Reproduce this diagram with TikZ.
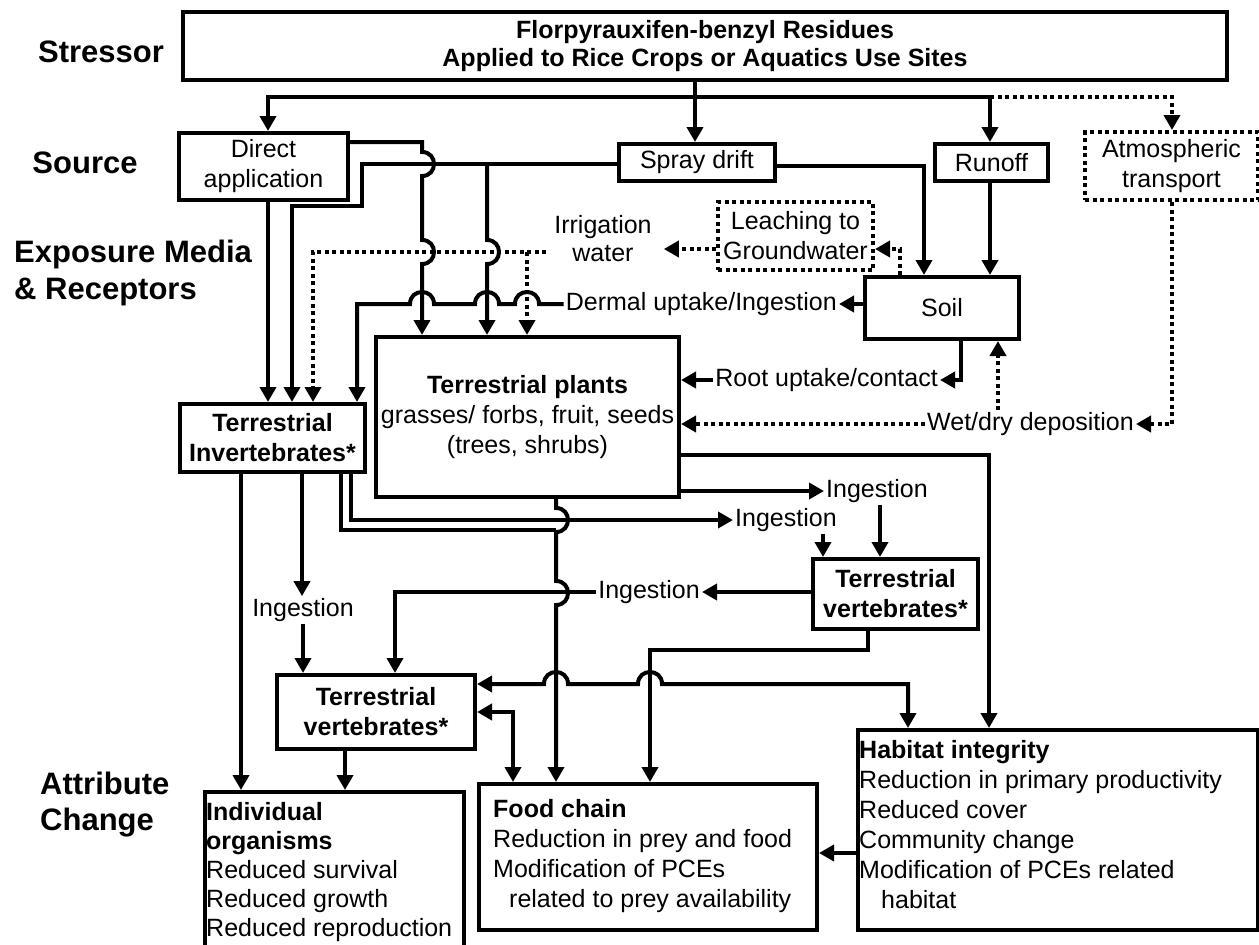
\documentclass[tikz,border=0pt]{standalone}
\usepackage{fontspec}
\setmainfont{Liberation Sans}
\usetikzlibrary{arrows.meta}
\begin{document}
\begin{tikzpicture}[x=1pt,y=-1pt,
  lw/.style={line width=4pt},
  box/.style={draw, lw, inner sep=0pt, align=center, anchor=north west, font=\fontsize{25}{30}\selectfont},
  dbox/.style={box, dash pattern=on 4pt off 3.5pt},
  arr/.style={lw, -{Triangle[length=15pt,width=16pt]}},
  darr/.style={lw, {Triangle[length=15pt,width=16pt]}-{Triangle[length=15pt,width=16pt]}},
  dot/.style={dash pattern=on 4pt off 3.5pt},
  lbl/.style={inner sep=2pt, font=\fontsize{25}{30}\selectfont, align=center},
  sect/.style={inner sep=0pt, font=\bfseries\fontsize{31}{37}\selectfont, align=left},
  body/.style={inner sep=0pt, anchor=north west, align=left, font=\fontsize{25}{30}\selectfont}
]
\useasboundingbox (0,0) rectangle (1259,945);
\clip (0,0) rectangle (1259,945);

% section labels
\node[sect, anchor=center] (lstress) at (101,52) {Stressor};
\node[sect, anchor=center] (lsource) at (85,163) {Source};
\node[sect, anchor=north west] (lexp) at (14,240) {Exposure Media\\\& Receptors};
\node[sect, anchor=north west, font=\bfseries\fontsize{31}{36}\selectfont] (lattr) at (40,772) {Attribute\\Change};

% boxes
\node[box, minimum width=1044pt, minimum height=68pt, font=\bfseries\fontsize{25}{28}\selectfont] (stressor) at (181,10) {Florpyrauxifen-benzyl Residues\\Applied to Rice Crops or Aquatics Use Sites};
\node[box, minimum width=169pt, minimum height=67pt] (da) at (177,131) {Direct\\application};
\node[box, minimum width=156pt, minimum height=37pt] (sd) at (617,142) {Spray drift};
\node[box, minimum width=113pt, minimum height=37pt] (ro) at (933,142) {Runoff};
\node[dbox, minimum width=173pt, minimum height=68pt] (at) at (1083,130) {Atmospheric\\transport};
\node[dbox, minimum width=155pt, minimum height=68pt] (lg) at (716,200) {Leaching to\\Groundwater};
\node[box, minimum width=154pt, minimum height=62pt] (soil) at (863,275) {Soil};
\node[box, minimum width=303pt, minimum height=160pt] (tp) at (374,335) {\textbf{Terrestrial plants}\\grasses/ forbs, fruit, seeds\\(trees, shrubs)};
\node[box, minimum width=185pt, minimum height=68pt, font=\bfseries\fontsize{25}{30}\selectfont] (ti) at (178,402) {Terrestrial\\Invertebrates*};
\node[box, minimum width=165pt, minimum height=70pt, font=\bfseries\fontsize{25}{30}\selectfont] (tvu) at (811,557) {Terrestrial\\vertebrates*};
\node[box, minimum width=198pt, minimum height=74pt, font=\bfseries\fontsize{25}{30}\selectfont] (tvl) at (275,673) {Terrestrial\\vertebrates*};
\node[box, minimum width=259pt, minimum height=165pt] (io) at (203,790) {};
\node[box, minimum width=338pt, minimum height=146pt] (fc) at (477,782) {};
\node[box, minimum width=400pt, minimum height=200pt] (hi) at (856,728) {};

% box texts
\node[body, font=\fontsize{25}{29}\selectfont] (iot) at (206,800) {\strut\textbf{Individual}\\\textbf{organisms}\\Reduced survival\\Reduced growth\\Reduced reproduction};
\node[body] (fct) at (493,796) {\strut\textbf{Food chain}\\Reduction in prey and food\\Modification of PCEs\\\hspace*{16pt}related to prey availability};
\node[body] (hit) at (859,737) {\strut\textbf{Habitat integrity}\\Reduction in primary productivity\\Reduced cover\\Community change\\Modification of PCEs related\\\hspace*{22pt}habitat};

% labels
\node[lbl, font=\fontsize{25}{28}\selectfont] (irr) at (603,239) {Irrigation\\water};
\node[lbl, anchor=east] (derm) at (839,304) {Dermal uptake/Ingestion};
\node[lbl, anchor=east] (root) at (940,380) {Root uptake/contact};
\node[lbl, anchor=west] (wet) at (925,424) {Wet/dry deposition};
\node[lbl, anchor=west] (ing1) at (824,491) {Ingestion};
\node[lbl, anchor=west] (ing2) at (733,520) {Ingestion};
\node[lbl, anchor=east] (ing3) at (702,592) {Ingestion};
\node[lbl] (ing4) at (303,610) {Ingestion};

% junction coordinates
\coordinate (split) at (695,97);
\coordinate (sdj) at (487,164);
\coordinate (irrj) at (527,252);
\coordinate (tij) at (556,530);

% stressor to sources
\draw[arr] (695,0 |- stressor.south) -- (695,0 |- sd.north);
\draw[arr] (split) -| (268,0 |- da.north);
\draw[arr] (split) -| (990,0 |- ro.north);
\draw[arr,dot] (990,0 |- split) -| (1172,0 |- at.north);

% direct application
\draw[arr] (268,0 |- da.south) -- (268,0 |- ti.north);
\draw[arr] (da.east |- 0,142) -- (422,142) -- (422,152) .. controls (438,152) and (438,176) .. (422,176) -- (422,240) .. controls (438,240) and (438,264) .. (422,264) -- (422,0 |- tp.north);

% spray drift
\draw[arr] (sd.west |- 0,164) -- (362,164) -- (362,206) -- (292,206) -- (292,0 |- ti.north);
\draw[arr] (sdj) -- (487,240) .. controls (503,240) and (503,264) .. (487,264) -- (487,0 |- tp.north);
\draw[arr] (sd.east |- 0,166) -| (924,0 |- soil.north);

% runoff
\draw[arr] (990,0 |- ro.south) -- (990,0 |- soil.north);

% leaching / irrigation
\draw[arr,dot] (900,0 |- soil.north) |- (lg.east |- 0,249);
\draw[arr,dot,shorten >=10pt] (lg.west |- 0,249) -- (irr.east |- 0,249);
\draw[arr,dot,shorten <=6pt] (irr.west |- 0,252) -- (313,252) -- (313,0 |- ti.north);
\draw[arr,dot] (irrj) -- (527,0 |- tp.north);

% dermal
\draw[arr] (soil.west |- derm.east) -- (derm.east);
\draw[arr] (derm.west) -- (539,304) .. controls (539,288) and (515,288) .. (515,304) -- (499,304) .. controls (499,288) and (475,288) .. (475,304) -- (434,304) .. controls (434,288) and (410,288) .. (410,304) -- (357,304) -- (357,0 |- ti.north);

% root uptake
\draw[arr] (961,0 |- soil.south) |- (root.east);
\draw[arr] (root.west) -- (tp.east |- root.west);

% atmospheric / deposition
\draw[arr,dot] (1172,0 |- at.south) |- (wet.east);
\draw[arr,dot] (wet.west) -- (tp.east |- wet.west);
\draw[arr,dot] (998,0 |- wet.north) -- (998,0 |- soil.south);

% plants outputs
\draw[arr] (tp.east |- 0,455) -| (989,0 |- hi.north);
\draw[arr] (tp.east |- ing1.west) -- (ing1.west);
\draw[arr] (880,0 |- ing1.south) -- (880,0 |- tvu.north);
\draw[arr] (556,0 |- tp.south) -- (556,508) .. controls (572,508) and (572,532) .. (556,532) -- (556,581) .. controls (572,581) and (572,605) .. (556,605) -- (556,0 |- fc.north);

% invertebrates outputs
\draw[arr] (241,0 |- ti.south) -- (241,0 |- io.north);
\draw[arr] (302,0 |- ti.south) -- (302,0 |- ing4.north);
\draw[arr] (ing4.south) -- (ing4.south |- tvl.north);
\draw[arr] (351,0 |- ti.south) |- (ing2.west);
\draw[arr] (823,0 |- ing2.south) -- (823,0 |- tvu.north);
\draw[lw] (341,0 |- ti.south) |- (tij);

% upper vertebrates outputs
\draw[arr] (tvu.west |- ing3.east) -- (ing3.east);
\draw[arr] (ing3.west) -| (395,0 |- tvl.north);
\draw[arr] (868,0 |- tvu.south) -- (868,650) -| (650,0 |- fc.north);

% lower vertebrates
\draw[darr] (tvl.east |- 0,684) -- (544,684) .. controls (544,668) and (568,668) .. (568,684) -- (638,684) .. controls (638,668) and (662,668) .. (662,684) -- (908,684) -- (908,0 |- hi.north);
\draw[darr] (tvl.east |- 0,712) -| (513,0 |- fc.north);
\draw[arr] (345,0 |- tvl.south) -- (345,0 |- io.north);

% habitat to food chain
\draw[arr] (hi.west |- 0,853) -- (fc.east |- 0,853);
\end{tikzpicture}
\end{document}
